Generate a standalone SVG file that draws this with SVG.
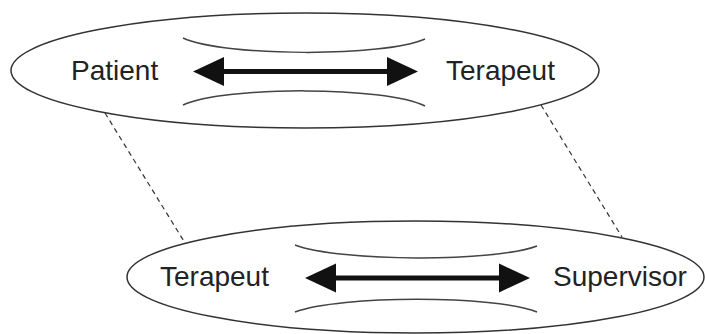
<svg xmlns="http://www.w3.org/2000/svg" width="705" height="334" viewBox="0 0 705 334">
<style>
.ell{fill:#fff;stroke:#333;stroke-width:1.5}
.cv{fill:none;stroke:#444;stroke-width:1.5}
.shaft{stroke:#111;stroke-width:5}
.head{fill:#111}
.lbl{font-family:"Liberation Sans",Arial,sans-serif;font-size:28px;fill:#222}
.dash{stroke:#333;stroke-width:1.2;stroke-dasharray:5,4;fill:none}
</style>
<rect width="705" height="334" fill="#fff"/>
<g id="connectors">
<line class="dash" x1="105" y1="113" x2="185" y2="243"/>
<line class="dash" x1="541" y1="105" x2="622" y2="237"/>
</g>
<g id="top">
<ellipse class="ell" cx="305" cy="70.5" rx="294" ry="57.5"/>
<path class="cv" d="M183,38 C225,57 385,57 425,39"/>
<path class="cv" d="M183,105 C225,86 385,86 425,106"/>
<line class="shaft" x1="215" y1="71.5" x2="395" y2="71.5"/>
<polygon class="head" points="193,71.5 224,57 224,86"/>
<polygon class="head" points="418,71.5 387,57 387,86"/>
<text class="lbl" x="71" y="80">Patient</text>
<text class="lbl" x="446" y="80">Terapeut</text>
</g>
<g id="bottom">
<ellipse class="ell" cx="415.5" cy="277" rx="288.5" ry="56"/>
<path class="cv" d="M295,245 C340,262 495,262 537,246"/>
<path class="cv" d="M295,312 C340,295 495,295 537,312"/>
<line class="shaft" x1="327" y1="278" x2="508" y2="278"/>
<polygon class="head" points="305,278 336,263.5 336,292.5"/>
<polygon class="head" points="530,278 499,263.5 499,292.5"/>
<text class="lbl" x="160" y="286">Terapeut</text>
<text class="lbl" x="553" y="286">Supervisor</text>
</g>
</svg>
